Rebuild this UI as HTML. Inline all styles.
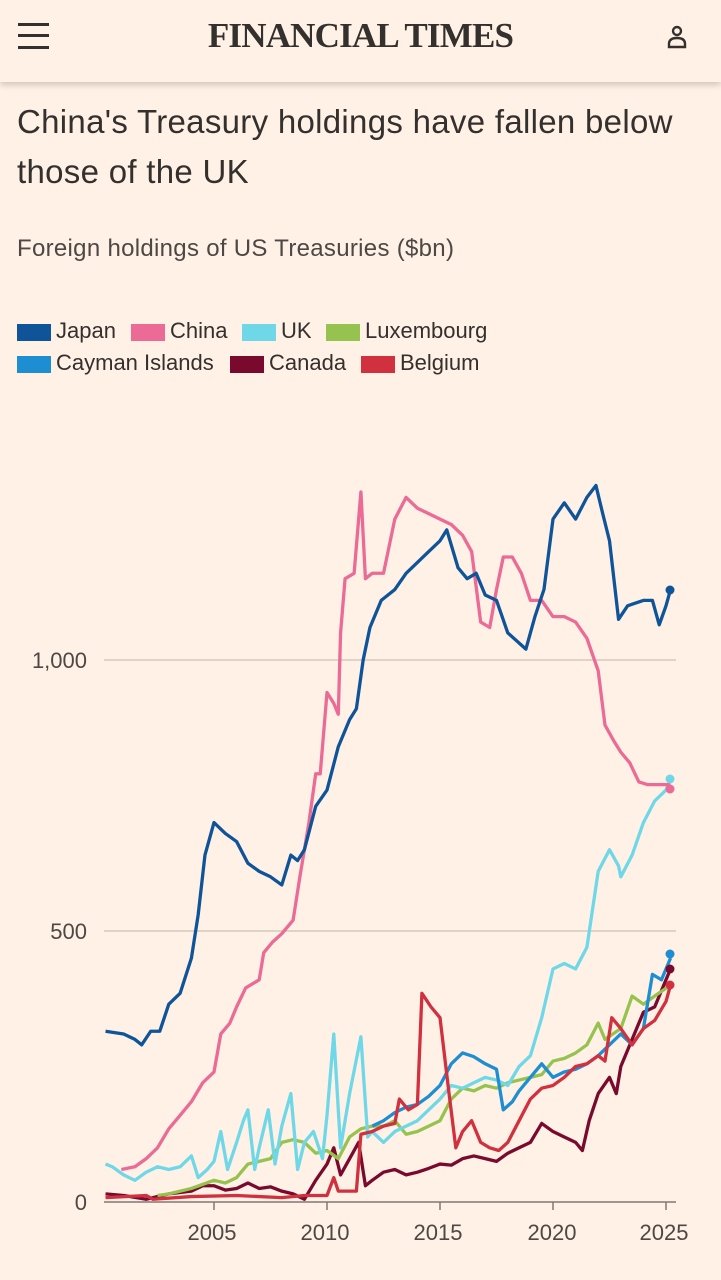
<!DOCTYPE html>
<html><head><meta charset="utf-8"><style>
*{margin:0;padding:0;box-sizing:border-box}
body{width:721px;height:1280px;background:#fff1e5;font-family:"Liberation Sans",sans-serif;color:#33302e;position:relative;overflow:hidden}
.hdr{position:absolute;left:0;top:0;width:721px;height:82px;background:#fff1e5;box-shadow:0 3px 6px rgba(0,0,0,0.18)}
.logo{position:absolute;left:0;width:721px;top:16px;text-align:center;font-family:"Liberation Serif",serif;font-size:35px;font-weight:bold;letter-spacing:-0.8px;color:#33302e}
.ham{position:absolute;left:18px;width:31px;height:3px;background:#33302e}
.t{position:absolute;left:17px;font-size:33px;line-height:50px;top:97px;width:710px;letter-spacing:0.3px}
.sub{position:absolute;left:17px;top:235px;font-size:24px;color:#4d4845;letter-spacing:0.3px}
.lg{position:absolute;font-size:22px;color:#33302e}
.sw{position:absolute;width:34px;height:17px}
</style></head><body>
<div class="hdr">
<div class="ham" style="top:23px"></div><div class="ham" style="top:34px"></div><div class="ham" style="top:46px"></div>
<div class="logo">FINANCIAL TIMES</div>
<svg style="position:absolute;left:666px;top:25px" width="22" height="26"><circle cx="11" cy="6" r="4" fill="none" stroke="#33302e" stroke-width="2.4"/><path d="M3 22 V19 Q3 13 11 13 Q19 13 19 19 V22 Z" fill="none" stroke="#33302e" stroke-width="2.4"/></svg>
</div>
<div class="t">China's Treasury holdings have fallen below<br>those of the UK</div>
<div class="sub">Foreign holdings of US Treasuries ($bn)</div>

<div class="sw" style="left:17px;top:324px;background:#0f5499"></div><div class="lg" style="left:56px;top:318px">Japan</div>
<div class="sw" style="left:131px;top:324px;background:#eb6a96"></div><div class="lg" style="left:170px;top:318px">China</div>
<div class="sw" style="left:242px;top:324px;background:#6fd8e8"></div><div class="lg" style="left:281px;top:318px">UK</div>
<div class="sw" style="left:326px;top:324px;background:#96c34f"></div><div class="lg" style="left:365px;top:318px">Luxembourg</div>
<div class="sw" style="left:17px;top:356px;background:#1e8ed3"></div><div class="lg" style="left:56px;top:350px">Cayman Islands</div>
<div class="sw" style="left:230px;top:356px;background:#7a0a2d"></div><div class="lg" style="left:269px;top:350px">Canada</div>
<div class="sw" style="left:361px;top:356px;background:#d1303f"></div><div class="lg" style="left:400px;top:350px">Belgium</div>

<svg style="position:absolute;left:0;top:0" width="721" height="1280">
<g font-family="Liberation Sans, sans-serif" font-size="22" fill="#4d4845">
<line x1="104" y1="660" x2="676" y2="660" stroke="#ccc1b7" stroke-width="1.2"/>
<line x1="104" y1="931" x2="676" y2="931" stroke="#ccc1b7" stroke-width="1.2"/>
<text x="87" y="668" text-anchor="end">1,000</text>
<text x="87" y="939" text-anchor="end">500</text>
<text x="87" y="1210" text-anchor="end">0</text>
<line x1="104" y1="1202" x2="676" y2="1202" stroke="#807973" stroke-width="1.5"/>
<g stroke="#807973" stroke-width="1.5"><line x1="214" y1="1202" x2="214" y2="1210"/><line x1="327" y1="1202" x2="327" y2="1210"/><line x1="440" y1="1202" x2="440" y2="1210"/><line x1="553" y1="1202" x2="553" y2="1210"/><line x1="666" y1="1202" x2="666" y2="1210"/></g>
<text x="212" y="1240" text-anchor="middle">2005</text><text x="325" y="1240" text-anchor="middle">2010</text><text x="438" y="1240" text-anchor="middle">2015</text><text x="552" y="1240" text-anchor="middle">2020</text><text x="664" y="1240" text-anchor="middle">2025</text>
</g>
<g transform="translate(-45099,1202) scale(22.6,-0.542)" fill="none" stroke-width="3.3" stroke-linejoin="round">
<polyline vector-effect="non-scaling-stroke" stroke="#7a0a2d" points="2000.2,15 2001,12 2002,5 2003,15 2004,20 2004.5,30 2005,30 2005.5,22 2006,25 2006.5,35 2007,25 2007.5,28 2008,20 2008.5,15 2009,5 2009.5,40 2010,70 2010.3,100 2010.6,50 2011,80 2011.4,110 2011.7,30 2012,40 2012.5,55 2013,60 2013.5,50 2014,55 2014.5,62 2015,70 2015.5,68 2016,80 2016.5,85 2017,80 2017.5,75 2018,90 2018.5,100 2019,110 2019.5,145 2020,130 2020.5,120 2021,110 2021.3,95 2021.6,150 2022,200 2022.5,230 2022.8,200 2023,250 2023.5,300 2024,350 2024.5,360 2025.2,430"/>
<polyline vector-effect="non-scaling-stroke" stroke="#96c34f" points="2002.5,12 2003,15 2004,25 2005,40 2005.5,35 2006,45 2006.5,70 2007,75 2007.5,80 2008,110 2008.5,115 2009,110 2009.5,90 2010,95 2010.5,80 2011,120 2011.5,135 2012,140 2012.5,140 2013,150 2013.5,125 2014,130 2014.5,140 2015,150 2015.5,190 2016,210 2016.5,205 2017,215 2017.5,210 2018,220 2018.5,225 2019,230 2019.5,235 2020,260 2020.5,265 2021,275 2021.5,290 2022,330 2022.3,300 2023,320 2023.5,380 2024,365 2024.5,380 2025.2,400"/>
<polyline vector-effect="non-scaling-stroke" stroke="#6fd8e8" points="2000.2,70 2000.5,65 2001,50 2001.5,40 2002,55 2002.5,65 2003,60 2003.5,65 2004,85 2004.3,45 2004.7,60 2005,75 2005.3,130 2005.6,60 2006,110 2006.3,150 2006.5,170 2006.8,60 2007,100 2007.4,170 2007.7,70 2008,140 2008.4,200 2008.7,60 2009,110 2009.4,130 2009.8,80 2010,160 2010.3,310 2010.6,100 2011,200 2011.5,305 2011.8,120 2012,130 2012.5,110 2013,130 2013.5,140 2014,150 2014.5,170 2015,190 2015.5,215 2016,210 2016.5,220 2017,230 2017.5,225 2018,215 2018.5,250 2019,270 2019.5,340 2020,430 2020.5,440 2021,430 2021.5,470 2022,610 2022.5,650 2022.9,620 2023,600 2023.5,640 2024,700 2024.5,740 2025,760 2025.2,780"/>
<polyline vector-effect="non-scaling-stroke" stroke="#1e8ed3" points="2012,140 2012.5,150 2013,165 2013.5,175 2014,180 2014.5,195 2015,215 2015.5,255 2016,275 2016.5,268 2017,255 2017.5,245 2017.8,170 2018.2,185 2018.5,205 2019,230 2019.5,255 2020,230 2020.5,240 2021,245 2021.5,255 2022,270 2022.5,290 2023,310 2023.5,290 2024,320 2024.4,420 2024.8,410 2025.2,450"/>
<polyline vector-effect="non-scaling-stroke" stroke="#d1303f" points="2000.2,8 2002,12 2002.3,5 2004,10 2006,12 2008,8 2009,12 2010,12 2010.3,45 2010.5,20 2011,20 2011.3,20 2011.5,125 2012,130 2012.5,140 2013,145 2013.2,190 2013.6,170 2014,180 2014.2,385 2014.6,360 2015,340 2015.4,200 2015.7,100 2016,130 2016.4,150 2016.8,110 2017.2,100 2017.6,95 2018,110 2018.5,150 2019,190 2019.5,210 2020,215 2020.5,230 2021,250 2021.5,255 2022,270 2022.3,260 2022.6,340 2023,320 2023.5,290 2024,320 2024.5,335 2025,370 2025.2,400"/>
<polyline vector-effect="non-scaling-stroke" stroke="#eb6a96" points="2000.9,60 2001.5,65 2002,80 2002.5,100 2003,135 2003.5,160 2004,185 2004.5,220 2005,240 2005.3,310 2005.7,330 2006,360 2006.4,395 2007,410 2007.2,460 2007.6,480 2008,495 2008.5,520 2008.8,600 2009.2,700 2009.5,790 2009.7,790 2010,940 2010.3,920 2010.5,900 2010.6,1050 2010.8,1150 2011.2,1160 2011.5,1310 2011.7,1150 2012,1160 2012.5,1160 2013,1260 2013.5,1300 2014,1280 2014.5,1270 2015,1260 2015.5,1250 2016,1230 2016.4,1200 2016.8,1070 2017.2,1060 2017.5,1130 2017.8,1190 2018.2,1190 2018.6,1160 2019,1110 2019.5,1110 2020,1080 2020.5,1080 2021,1070 2021.5,1040 2022,980 2022.3,880 2022.7,850 2023,830 2023.4,810 2023.8,775 2024.2,770 2025.2,770"/>
<polyline vector-effect="non-scaling-stroke" stroke="#0f5499" points="2000.2,315 2001,310 2001.5,300 2001.8,290 2002.2,315 2002.6,315 2003,365 2003.5,385 2004,450 2004.3,530 2004.6,640 2005,700 2005.5,680 2006,665 2006.5,625 2007,610 2007.5,600 2008,585 2008.4,640 2008.7,630 2009,650 2009.5,730 2010,760 2010.5,840 2011,890 2011.3,910 2011.6,1000 2011.9,1060 2012.4,1110 2013,1130 2013.5,1160 2014,1180 2014.5,1200 2015,1220 2015.3,1240 2015.8,1170 2016.2,1150 2016.6,1160 2017,1120 2017.5,1110 2018,1050 2018.8,1020 2019.2,1080 2019.6,1130 2020,1260 2020.5,1290 2021,1260 2021.5,1300 2021.9,1322 2022.2,1270 2022.5,1220 2022.9,1075 2023.3,1100 2024,1110 2024.4,1110 2024.7,1065 2025,1100 2025.2,1130"/>
</g>
<circle cx="670" cy="954" r="4.5" fill="#1e8ed3"/>
<circle cx="670" cy="969" r="4.5" fill="#7a0a2d"/>
<circle cx="670" cy="985" r="4.5" fill="#d1303f"/>
<circle cx="670" cy="779" r="4.5" fill="#6fd8e8"/>
<circle cx="670" cy="789" r="4.5" fill="#eb6a96"/>
<circle cx="670" cy="590" r="4.5" fill="#0f5499"/>
</svg>
</body></html>
